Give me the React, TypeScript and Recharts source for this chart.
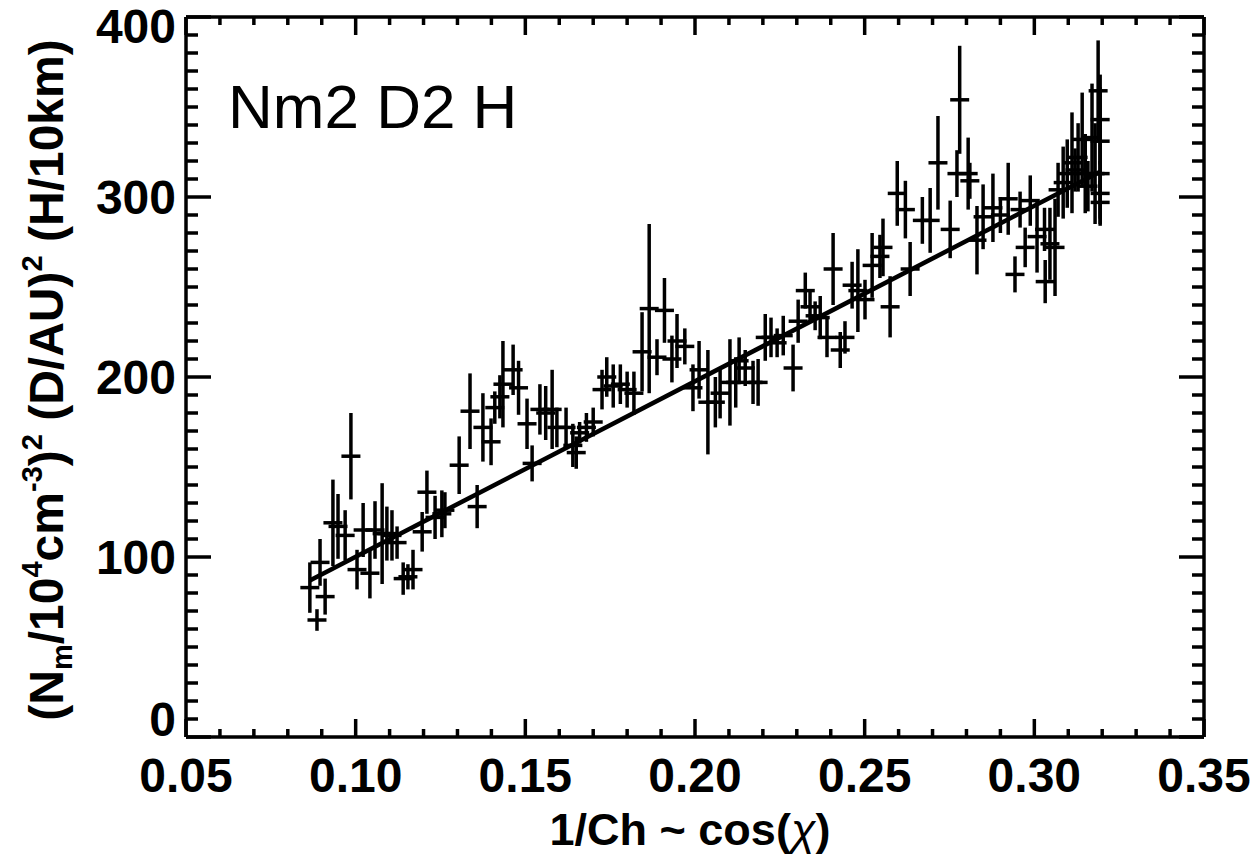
import React from "react";
import { ScatterChart, Scatter, XAxis, YAxis, ErrorBar } from "recharts";

// 1/Ch values of the measurements
const xs = [
  0.0865, 0.0886, 0.0895, 0.091, 0.0933, 0.0948, 0.0969, 0.0986, 0.1004, 0.1022,
  0.1042, 0.1057, 0.1078, 0.1092, 0.1107, 0.1122, 0.114, 0.1154, 0.1169, 0.1196,
  0.121, 0.1234, 0.1254, 0.1263, 0.1305, 0.1337, 0.1358, 0.1375, 0.1399, 0.141,
  0.1425, 0.1434, 0.1464, 0.148, 0.1505, 0.152, 0.1543, 0.156, 0.1579, 0.1593,
  0.162, 0.164, 0.165, 0.166, 0.168, 0.17, 0.1726, 0.174, 0.1759, 0.178,
  0.18, 0.182, 0.1844, 0.1865, 0.1888, 0.191, 0.1932, 0.1947, 0.197, 0.1994,
  0.2012, 0.2038, 0.206, 0.2074, 0.2103, 0.212, 0.213, 0.2148, 0.2171, 0.2186,
  0.2207, 0.2224, 0.2242, 0.226, 0.2289, 0.2304, 0.2325, 0.2339, 0.2354, 0.2369,
  0.2389, 0.2407, 0.2428, 0.2442, 0.2463, 0.248, 0.2501, 0.2522, 0.2545, 0.2554,
  0.2575, 0.2596, 0.262, 0.2634, 0.267, 0.2693, 0.2716, 0.2752, 0.2772, 0.278,
  0.2805, 0.281, 0.2831, 0.2849, 0.2878, 0.29, 0.2923, 0.2943, 0.2958, 0.2973,
  0.2988, 0.3008, 0.303, 0.3032, 0.3046, 0.3061, 0.307, 0.3085, 0.3097, 0.3111,
  0.312, 0.3129, 0.3141, 0.315, 0.3158, 0.317, 0.3179, 0.3188, 0.3194, 0.3194,
  0.3194, 0.3194, 0.3194,
];

// Nm^2 D^2 H values
const ys = [
  83, 65, 97, 78, 119, 117, 112, 156, 93, 115,
  91, 115, 113, 113, 112, 108, 88, 89, 93, 114,
  136, 122, 124, 126, 151, 181, 128, 172, 164, 183,
  189, 196, 204, 194, 174, 152, 182, 180, 182, 172,
  172, 162, 158, 169, 172, 175, 193, 200, 195, 196,
  193, 191, 214, 238, 211, 237, 210, 220, 217, 194,
  204, 186, 186, 191, 197, 197, 209, 205, 197, 197,
  222, 222, 219, 223, 205, 231, 248, 239, 234, 233,
  222, 260, 215, 222, 251, 248, 243, 262, 267, 272,
  239, 302, 293, 260, 287, 287, 319, 282, 313, 354,
  313, 309, 276, 289, 294, 290, 299, 257, 293, 272,
  298, 278, 282, 253, 274, 272, 304, 308, 313, 319,
  315, 322, 332, 313, 306, 333, 313, 359, 343, 331,
  313, 302, 297,
];

// vertical error (half length)
const yErr = [
  14, 6, 13, 10, 24, 18, 14, 24, 11, 15,
  14, 16, 28, 15, 14, 9, 9, 7, 11, 11,
  12, 12, 13, 10, 16, 21, 12, 19, 13, 9,
  12, 24, 14, 15, 14, 10, 14, 15, 22, 11,
  11, 12, 9, 6, 8, 8, 11, 11, 12, 11,
  10, 12, 22, 47, 10, 18, 13, 15, 10, 13,
  16, 29, 14, 14, 24, 14, 13, 10, 12, 13,
  13, 11, 8, 11, 13, 12, 10, 9, 8, 12,
  11, 20, 10, 9, 13, 23, 11, 18, 12, 16,
  17, 18, 16, 15, 13, 18, 26, 16, 13, 30,
  20, 10, 19, 18, 19, 10, 20, 10, 10, 11,
  14, 20, 12, 12, 20, 27, 15, 20, 19, 28,
  12, 19, 26, 22, 14, 30, 28, 28, 25, 30,
  25, 18, 12,
];

const X_ERR = 0.0028;

// linear fit end points
const fitX = [0.0865, 0.3194];
const fitY = [87, 314];

const xMajor = [0.05, 0.1, 0.15, 0.2, 0.25, 0.3, 0.35];
const yMajor = [0, 100, 200, 300, 400];

const subdivide = (major: number[], n: number) => {
  const out: number[] = [];
  for (let i = 0; i < major.length - 1; i++) {
    const step = (major[i + 1] - major[i]) / n;
    for (let k = 0; k < n; k++) out.push(+(major[i] + k * step).toFixed(4));
  }
  out.push(major[major.length - 1]);
  return out;
};

const xTicks = subdivide(xMajor, 5);
const yTicks = subdivide(yMajor, 10);

const isMajor = (v: number, major: number[]) => major.some(m => Math.abs(m - v) < 1e-6);

const points = xs.map((x, i) => ({ x, y: ys[i], ex: X_ERR, ey: yErr[i] }));
const fitLine = fitX.map((x, i) => ({ x, y: fitY[i] }));
const corners = [{ x: 0.05, y: 0 }, { x: 0.35, y: 400 }];

const FONT = "'Liberation Sans', Arial, Helvetica, sans-serif";
const INK = "#000";
const W = 3.5;

const NoDot = () => <g />;

const BottomTick = ({ x, y, payload }: any) => {
  const major = isMajor(payload.value, xMajor);
  return (
    <g>
      <line x1={x} x2={x} y1={y} y2={y - (major ? 18 : 8)} stroke={INK} strokeWidth={W} />
      {major && (
        <text x={x} y={y + 55} textAnchor="middle" fontSize={48} fontWeight="bold" fontFamily={FONT} fill={INK}>
          {payload.value.toFixed(2)}
        </text>
      )}
    </g>
  );
};

const TopTick = ({ x, y, payload }: any) => {
  const major = isMajor(payload.value, xMajor);
  return <line x1={x} x2={x} y1={y} y2={y + (major ? 18 : 8)} stroke={INK} strokeWidth={W} />;
};

const LeftTick = ({ x, y, payload }: any) => {
  const major = isMajor(payload.value, yMajor);
  // IDL nudges the end labels inside the axis range
  const shift = payload.value === 0 ? -18 : payload.value === 400 ? 9 : 0;
  return (
    <g>
      <line x1={x} x2={x + (major ? 25 : 12)} y1={y} y2={y} stroke={INK} strokeWidth={W} />
      {major && (
        <text x={x - 10} y={y + shift + 17} textAnchor="end" fontSize={48} fontWeight="bold" fontFamily={FONT} fill={INK}>
          {payload.value}
        </text>
      )}
    </g>
  );
};

const RightTick = ({ x, y, payload }: any) => {
  const major = isMajor(payload.value, yMajor);
  return <line x1={x} x2={x - (major ? 25 : 12)} y1={y} y2={y} stroke={INK} strokeWidth={W} />;
};

const YTitle = () => (
  <text
    transform="translate(63, 380) rotate(-90)"
    textAnchor="middle"
    fontSize={48}
    fontWeight="bold"
    fontFamily={FONT}
    fill={INK}
  >
    (N
    <tspan fontSize={29} dy={9}>m</tspan>
    <tspan dy={-9}>/10</tspan>
    <tspan fontSize={29} dy={-21}>4</tspan>
    <tspan dy={21}>cm</tspan>
    <tspan fontSize={29} dy={-21}>-3</tspan>
    <tspan dy={21}>)</tspan>
    <tspan fontSize={29} dy={-21}>2</tspan>
    <tspan dy={21}> (D/AU)</tspan>
    <tspan fontSize={29} dy={-21}>2</tspan>
    <tspan dy={21}> (H/10km)</tspan>
  </text>
);

const XTitle = ({ viewBox }: any) => (
  <text
    x={viewBox.x + viewBox.width / 2 - 5}
    y={845}
    textAnchor="middle"
    fontSize={45}
    fontWeight="bold"
    fontFamily={FONT}
    fill={INK}
  >
    1/Ch ~ cos(<tspan fontStyle="italic" fontWeight="normal">χ</tspan>)
  </text>
);

const PanelTitle = ({ viewBox }: any) => (
  <text x={viewBox.x + 42} y={128} fontSize={62} fontFamily={FONT} fill={INK}>
    Nm2 D2 H
  </text>
);

export default function App() {
  return (
    <div style={{ position: "absolute", left: 0, top: 0, background: "#fff" }}>
      <ScatterChart width={1255} height={858} margin={{ top: 16, right: 50, bottom: 0, left: 0 }}>
        <XAxis
          xAxisId="b"
          type="number"
          dataKey="x"
          orientation="bottom"
          domain={[0.05, 0.35]}
          ticks={xTicks}
          interval={0}
          height={121}
          tickSize={0}
          tickMargin={0}
          tickLine={false}
          tick={BottomTick}
          axisLine={{ stroke: INK, strokeWidth: W }}
          allowDataOverflow
          label={{ content: XTitle }}
        />
        <XAxis
          xAxisId="t"
          type="number"
          dataKey="x"
          orientation="top"
          domain={[0.05, 0.35]}
          ticks={xTicks}
          interval={0}
          height={1}
          tickSize={0}
          tickMargin={0}
          tickLine={false}
          tick={TopTick}
          axisLine={{ stroke: INK, strokeWidth: W }}
          allowDataOverflow
          label={{ content: PanelTitle }}
        />
        <YAxis
          yAxisId="l"
          type="number"
          dataKey="y"
          orientation="left"
          domain={[0, 400]}
          ticks={yTicks}
          interval={0}
          width={186}
          tickSize={0}
          tickMargin={0}
          tickLine={false}
          tick={LeftTick}
          axisLine={{ stroke: INK, strokeWidth: W }}
          allowDataOverflow
          label={{ content: YTitle }}
        />
        <YAxis
          yAxisId="r"
          type="number"
          dataKey="y"
          orientation="right"
          domain={[0, 400]}
          ticks={yTicks}
          interval={0}
          width={1}
          tickSize={0}
          tickMargin={0}
          tickLine={false}
          tick={RightTick}
          axisLine={{ stroke: INK, strokeWidth: W }}
          allowDataOverflow
        />
        <Scatter xAxisId="t" yAxisId="r" data={corners} shape={NoDot} isAnimationActive={false} />
        <Scatter
          xAxisId="b"
          yAxisId="l"
          data={fitLine}
          shape={NoDot}
          line={{ stroke: INK, strokeWidth: 4.5 }}
          isAnimationActive={false}
        />
        <Scatter xAxisId="b" yAxisId="l" data={points} shape={NoDot} isAnimationActive={false}>
          <ErrorBar dataKey="ey" direction="y" width={0} stroke={INK} strokeWidth={3.5} isAnimationActive={false} />
          <ErrorBar dataKey="ex" direction="x" width={0} stroke={INK} strokeWidth={3.5} isAnimationActive={false} />
        </Scatter>
      </ScatterChart>
    </div>
  );
}
